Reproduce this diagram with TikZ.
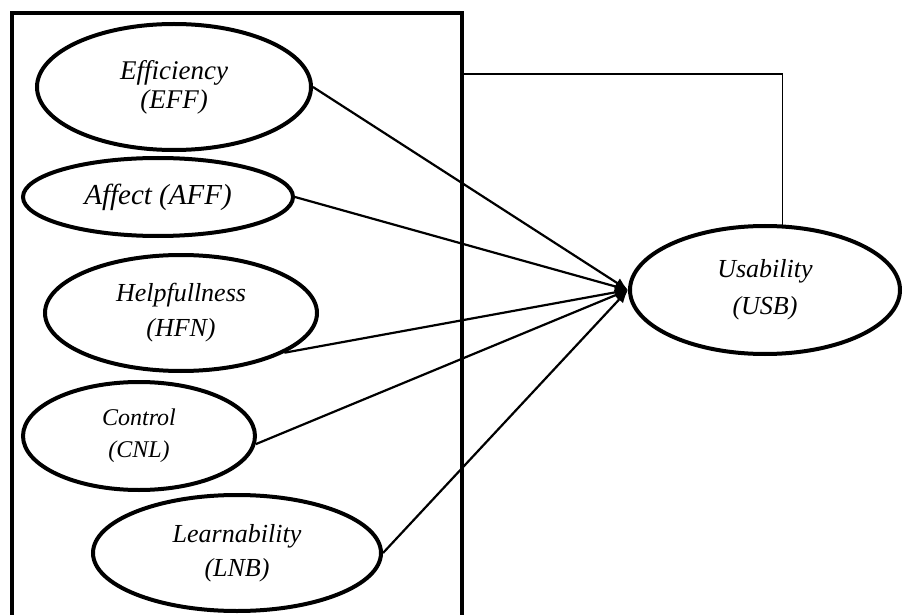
\documentclass[tikz,border=0pt]{standalone}
\usepackage{fontspec}
\setmainfont{Liberation Serif}
\usetikzlibrary{shapes.geometric,arrows.meta}

\tikzset{
  construct/.style={draw, ellipse, line width=4pt, inner sep=0pt, align=center},
  link/.style={line width=2.2pt, -{Latex[length=13pt,width=11pt]}},
}

\begin{document}
\begin{tikzpicture}[x=1pt,y=-1pt]
\useasboundingbox (0,0) rectangle (903,615);
\coordinate (BL) at (12,625);
\coordinate (TL) at (12,13);
\coordinate (TR) at (462,13);
\coordinate (BR) at (462,625);
\coordinate (fb) at (462,74);
\draw [line width=4.5pt] (BL) -- (TL) -- (TR) -- (BR);

\node [construct, minimum width=274pt, minimum height=126pt, font=\fontsize{27}{29}\selectfont\itshape] (EFF) at (174,87) {Efficiency\\(EFF)};
\node [construct, minimum width=270pt, minimum height=78pt, font=\fontsize{29}{34}\selectfont\itshape] (AFF) at (158,197) {Affect (AFF)};
\node [construct, minimum width=272pt, minimum height=116pt, font=\fontsize{26}{35}\selectfont\itshape] (HFN) at (181,313) {Helpfullness\\(HFN)};
\node [construct, minimum width=232pt, minimum height=108pt, font=\fontsize{24}{32}\selectfont\itshape] (CNL) at (139,436) {Control\\(CNL)};
\node [construct, minimum width=288pt, minimum height=116pt, font=\fontsize{26}{34}\selectfont\itshape] (LNB) at (237,553) {Learnability\\(LNB)};
\node [construct, minimum width=270pt, minimum height=128pt, font=\fontsize{26}{37}\selectfont\itshape] (USB) at (765,290) {Usability\\(USB)};

\draw [link] (EFF.east) -- (USB.west);
\draw [link] (AFF.east) -- (USB.west);
\draw [link] (HFN.-21) -- (USB.west);
\draw [link] (CNL.-4) -- (USB.west);
\draw [link] (LNB.east) -- (USB.west);

\draw [line width=1.3pt] (fb) -| (USB.75);
\end{tikzpicture}
\end{document}
